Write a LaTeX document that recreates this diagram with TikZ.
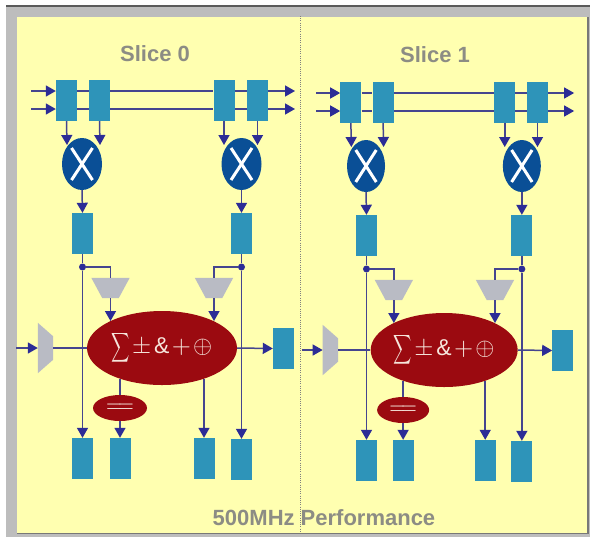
\documentclass[tikz,border=0pt]{standalone}
\usepackage{fontspec}
\setmainfont{Liberation Sans}
\usetikzlibrary{shapes.geometric,arrows.meta}
\definecolor{paper}{HTML}{FFFFB0}
\definecolor{frame}{HTML}{BDBDBD}
\definecolor{edgeline}{HTML}{5A5A5A}
\definecolor{teal}{HTML}{2E94B9}
\definecolor{wire}{HTML}{45458F}
\definecolor{tip}{HTML}{2C2C96}
\definecolor{mulblue}{HTML}{0A4F96}
\definecolor{alured}{HTML}{9B0A10}
\definecolor{muxgrey}{HTML}{B9BBC4}
\definecolor{labelgrey}{HTML}{8C8C84}
\definecolor{glyph}{HTML}{F6E6DC}
\tikzset{
  reg/.style={draw=none,fill=teal,minimum width=21pt,minimum height=41pt,inner sep=0pt},
  mul/.style={ellipse,fill=mulblue,minimum width=40pt,minimum height=52pt,inner sep=0pt},
  alu/.style={ellipse,fill=alured,minimum width=150pt,minimum height=74pt,inner sep=0pt,text=glyph},
  cmp/.style={ellipse,fill=alured,minimum width=54pt,minimum height=26pt,inner sep=0pt,text=glyph},
  junction/.style={circle,fill=tip,minimum size=7pt,inner sep=0pt},
  trap/.style={minimum width=38pt,minimum height=20pt,inner sep=0pt},
  sidemux/.style={minimum width=15pt,minimum height=50pt,inner sep=0pt},
  wireline/.style={draw=wire,line width=1.5pt},
  arrowline/.style={wireline,-{Triangle[length=10pt,width=11pt,color=tip]}},
  crossline/.style={draw=white,line width=3pt},
  heading/.style={text=labelgrey,font=\bfseries\fontsize{22}{24}\selectfont,inner sep=0pt}
}
\newcommand{\slicebody}{%
  % free ends
  \coordinate (inA) at (31,91);
  \coordinate (inB) at (31,109);
  \coordinate (outA) at (295,91);
  \coordinate (outB) at (295,109);
  \coordinate (inC) at (16,348);
  % registers
  \node[reg] (r1) at (66.5,100.5) {};
  \node[reg] (r2) at (99.5,100.5) {};
  \node[reg] (r3) at (224,100.5) {};
  \node[reg] (r4) at (257.5,100.5) {};
  \node[reg] (r5) at (82.5,233.5) {};
  \node[reg] (r6) at (241.5,233.5) {};
  \node[reg] (r7) at (283.5,348.5) {};
  \node[reg] (b1) at (82.5,458.5) {};
  \node[reg] (b2) at (120,458.5) {};
  \node[reg] (b3) at (204,458.5) {};
  \node[reg] (b4) at (241.5,459.5) {};
  % multipliers
  \node[mul] (m1) at (82,164) {};
  \node[mul] (m2) at (241.5,164) {};
  \draw[crossline] ([shift={(-10.5,-16)}]m1.center) -- ([shift={(10.5,16)}]m1.center);
  \draw[crossline] ([shift={(10.5,-16)}]m1.center) -- ([shift={(-10.5,16)}]m1.center);
  \draw[crossline] ([shift={(-10.5,-16)}]m2.center) -- ([shift={(10.5,16)}]m2.center);
  \draw[crossline] ([shift={(10.5,-16)}]m2.center) -- ([shift={(-10.5,16)}]m2.center);
  % muxes and ALU
  \node[trap] (t1) at (110.5,288) {};
  \fill[muxgrey] (t1.north west) -- (t1.north east) -- ([xshift=-11pt]t1.south east) -- ([xshift=11pt]t1.south west) -- cycle;
  \node[trap] (t2) at (214,288) {};
  \fill[muxgrey] (t2.north west) -- (t2.north east) -- ([xshift=-11pt]t2.south east) -- ([xshift=11pt]t2.south west) -- cycle;
  \node[sidemux] (sm) at (45.5,348) {};
  \fill[muxgrey] (sm.north west) -- ([yshift=-13.5pt]sm.north east) -- ([yshift=13.5pt]sm.south east) -- (sm.south west) -- cycle;
  \node[alu] (alu) at (162,348) {\scalebox{2.05}{$\scalebox{.62}[1]{$\displaystyle\sum$}\kern1pt\scalebox{1.2}{$\pm$}\kern1.4pt\scalebox{1.12}{\textrm{\&}}\kern1.2pt\scalebox{1.2}{$+$}\kern1pt\scalebox{1.2}{$\oplus$}$}};
  \node[cmp] (cmp) at (120,408) {\scalebox{2}[2.3]{$=\joinrel=$}};
  \node[junction] (d1) at (82.5,267) {};
  \node[junction] (d2) at (241.5,267) {};
  % contact points on the ellipses
  \coordinate (q1) at (67,145);
  \coordinate (q2) at (100,145);
  \coordinate (q3) at (224,145);
  \coordinate (q4) at (257.5,145);
  \coordinate (q5) at (110.5,321);
  \coordinate (q6) at (214,321);
  \coordinate (q7) at (120,379);
  \coordinate (q8) at (204,379);
  % bus
  \draw[arrowline] (inA) -- (r1.west |- inA);
  \draw[arrowline] (inB) -- (r1.west |- inB);
  \draw[wireline] (r1.east |- inA) -- (r2.west |- inA);
  \draw[wireline] (r1.east |- inB) -- (r2.west |- inB);
  \draw[wireline] (r2.east |- inA) -- (r3.west |- inA);
  \draw[wireline] (r2.east |- inB) -- (r3.west |- inB);
  \draw[wireline] (r3.east |- inA) -- (r4.west |- inA);
  \draw[wireline] (r3.east |- inB) -- (r4.west |- inB);
  \draw[arrowline] (r4.east |- outA) -- (outA);
  \draw[arrowline] (r4.east |- outB) -- (outB);
  % into multipliers
  \draw[arrowline] (r1.south) -- (q1);
  \draw[arrowline] (r2.south) -- (q2);
  \draw[arrowline] (r3.south) -- (q3);
  \draw[arrowline] (r4.south) -- (q4);
  \draw[arrowline] (m1.south) -- (r5.north);
  \draw[arrowline] (m2.south) -- (r6.north);
  % down the sides
  \draw[wireline] (r5.south) -- (d1);
  \draw[wireline] (r6.south) -- (d2);
  \draw[arrowline] (d1) -- (b1.north);
  \draw[arrowline] (d2) -- (b4.north);
  \draw[wireline] (d1) -| (t1.north);
  \draw[wireline] (d2) -| (t2.north);
  \draw[arrowline] (t1.south) -- (q5);
  \draw[arrowline] (t2.south) -- (q6);
  % horizontal path
  \draw[arrowline] (inC) -- (sm.west);
  \draw[wireline] (sm.east) -- (alu.west);
  \draw[arrowline] (alu.east) -- (r7.west);
  % below the ALU
  \draw[wireline] (q7) -- (cmp.north);
  \draw[arrowline] (cmp.south) -- (b2.north);
  \draw[arrowline] (q8) -- (b3.north);
}
\begin{document}
\begin{tikzpicture}[x=1pt,y=-1pt]
  \useasboundingbox (0,0) rectangle (591,539);
  \fill[white] (0,0) rectangle (591,539);
  \fill[frame] (6,5) rectangle (590,537);
  \fill[edgeline] (6,5) rectangle (590,6.5);
  \fill[paper] (16.5,17) rectangle (587,533);
  \fill[edgeline!70!frame] (587,17) rectangle (589,534);
  \fill[edgeline!70!frame] (17,533) rectangle (589,534);
  \coordinate (divT) at (300,16);
  \coordinate (divB) at (300,533);
  \draw[draw=gray,line width=1pt,dash pattern=on 1pt off 1.2pt] (divT) -- (divB);
  \node[heading] (s0) at (155,54) {Slice 0};
  \node[heading] (s1) at (435,55) {Slice 1};
  \begin{scope}
    \slicebody
  \end{scope}
  \begin{scope}[x=.977pt,xshift=285.9pt,yshift=-2pt,name prefix=k-,
      alu/.append style={minimum width=147pt},
      mul/.append style={minimum width=38pt},
      cmp/.append style={minimum width=52pt}]
    \slicebody
  \end{scope}
  \node[heading] (perf) at (324,518) {500MHz Performance};
\end{tikzpicture}
\end{document}
